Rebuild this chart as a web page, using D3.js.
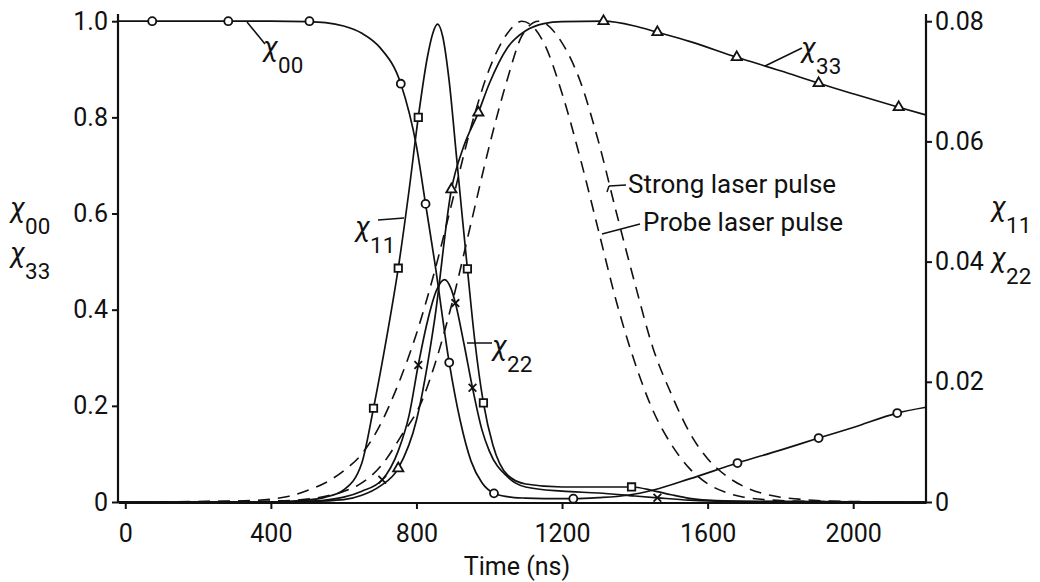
<!DOCTYPE html>
<html><head><meta charset="utf-8">
<script src="https://cdn.jsdelivr.net/npm/d3@7"></script>
<style>
body{margin:0;background:#fff;}
svg{display:block;}
text{font-family:"Liberation Sans Narrow","Roboto",sans-serif;fill:#111;}
</style></head><body>
<svg id="c" width="1040" height="582"></svg>
<script>
// ---- tick values / labels ----
const xTicks = [0, 400, 800, 1200, 1600, 2000];
const yLeftTicks = [0, 0.2, 0.4, 0.6, 0.8, 1.0];
const yLeftLabels = ["0", "0.2", "0.4", "0.6", "0.8", "1.0"];
const yRightTicks = [0, 0.02, 0.04, 0.06, 0.08];
const yRightLabels = ["0", "0.02", "0.04", "0.06", "0.08"];

// ---- chi00 (left axis) ----
const t00 = [-20, 100, 200, 300, 400, 500, 550, 600, 650, 700, 757, 800, 825, 850, 890, 920, 950, 980, 1013, 1050, 1100, 1150, 1231, 1300, 1380, 1451, 1550, 1682, 1800, 1905, 2000, 2121, 2200];
const v00 = [1.0, 1.0, 1.0, 1.0, 1.0, 0.999, 0.997, 0.99, 0.975, 0.945, 0.87, 0.74, 0.62, 0.50, 0.29, 0.17, 0.085, 0.04, 0.018, 0.011, 0.008, 0.007, 0.007, 0.009, 0.014, 0.025, 0.048, 0.081, 0.108, 0.133, 0.155, 0.185, 0.197];
const m00t = [74, 283, 506, 757, 825, 890, 1013, 1231, 1682, 1905, 2121];
const m00v = [1.0, 1.0, 1.0, 0.87, 0.62, 0.29, 0.018, 0.007, 0.081, 0.133, 0.185];

// ---- chi33 (left axis) ----
const t33 = [-20, 400, 500, 600, 650, 700, 750, 800, 850, 896, 930, 970, 1000, 1050, 1100, 1150, 1200, 1314, 1400, 1462, 1550, 1680, 1800, 1905, 2000, 2125, 2200];
const v33 = [0, 0, 0.001, 0.005, 0.014, 0.033, 0.07, 0.17, 0.38, 0.65, 0.74, 0.81, 0.87, 0.945, 0.98, 0.995, 0.999, 1.0, 0.99, 0.977, 0.958, 0.925, 0.897, 0.871, 0.849, 0.821, 0.805];
const m33t = [750, 896, 970, 1314, 1462, 1680, 1905, 2125];
const m33v = [0.07, 0.65, 0.81, 1.0, 0.977, 0.925, 0.871, 0.821];

// ---- chi11 (right axis) ----
const t11 = [-20, 400, 500, 550, 600, 650, 682, 720, 750, 780, 805, 830, 845, 858, 872, 890, 910, 925, 940, 960, 984, 1010, 1050, 1100, 1200, 1300, 1391, 1450, 1500, 1550, 1600, 1700, 2200];
const v11 = [0, 0, 0.0003, 0.0008, 0.002, 0.0065, 0.0156, 0.028, 0.0389, 0.052, 0.064, 0.074, 0.078, 0.0795, 0.0775, 0.070, 0.0575, 0.048, 0.0388, 0.027, 0.0165, 0.0095, 0.0045, 0.003, 0.0025, 0.0025, 0.0025, 0.0019, 0.0012, 0.0006, 0.0003, 0.0001, 0];
const m11t = [682, 750, 805, 940, 984, 1391];
const m11v = [0.0156, 0.0389, 0.064, 0.0388, 0.0165, 0.0025];

// ---- chi22 (right axis) ----
const t22 = [-20, 400, 500, 550, 600, 650, 706, 750, 780, 805, 830, 855, 877, 895, 907, 930, 954, 980, 1000, 1050, 1100, 1200, 1300, 1400, 1462, 1550, 1650, 2200];
const v22 = [0, 0, 0.0001, 0.0003, 0.0008, 0.0018, 0.0037, 0.0085, 0.0145, 0.0228, 0.030, 0.0352, 0.037, 0.0355, 0.0331, 0.0265, 0.019, 0.012, 0.0085, 0.0042, 0.0025, 0.0018, 0.0015, 0.001, 0.0007, 0.0003, 0.0001, 0];
const m22t = [706, 805, 907, 954, 1462];
const m22v = [0.0037, 0.0228, 0.0331, 0.019, 0.0007];

// ---- laser pulses (left axis, normalised) ----
const tProbe = [-20, 300, 400, 450, 500, 550, 600, 650, 700, 750, 800, 850, 900, 950, 1000, 1050, 1090, 1150, 1200, 1250, 1300, 1350, 1400, 1450, 1500, 1550, 1600, 1650, 1700, 1800, 1900, 2000, 2200];
const vProbe = [0, 0.002, 0.006, 0.012, 0.024, 0.04, 0.065, 0.10, 0.16, 0.245, 0.35, 0.48, 0.63, 0.78, 0.90, 0.975, 1.0, 0.955, 0.85, 0.715, 0.565, 0.415, 0.29, 0.19, 0.12, 0.07, 0.038, 0.02, 0.01, 0.003, 0.001, 0, 0];
const tStrong = [-20, 400, 500, 550, 600, 640, 709, 756, 816, 850, 900, 950, 1000, 1050, 1090, 1135, 1200, 1250, 1300, 1350, 1400, 1450, 1500, 1550, 1600, 1650, 1700, 1750, 1800, 1850, 1900, 2000, 2100, 2200];
const vStrong = [0, 0.002, 0.006, 0.012, 0.022, 0.035, 0.081, 0.135, 0.212, 0.285, 0.42, 0.58, 0.74, 0.88, 0.97, 1.0, 0.955, 0.875, 0.75, 0.6, 0.455, 0.32, 0.225, 0.145, 0.09, 0.055, 0.032, 0.018, 0.01, 0.006, 0.003, 0.001, 0, 0];

// ---- scales ----
const svg = d3.select("#c");
const x = d3.scaleLinear().domain([-20, 2200]).range([118, 926]);
const yL = d3.scaleLinear().domain([0, 1.015]).range([502, 14]);
const yR = d3.scaleLinear().domain([0, 0.0812]).range([502, 14]);

const zip = (ts, vs) => ts.map((t, i) => [t, vs[i]]);
const lineL = d3.line().x(d => x(d[0])).y(d => yL(d[1])).curve(d3.curveMonotoneX);
const lineR = d3.line().x(d => x(d[0])).y(d => yR(d[1])).curve(d3.curveMonotoneX);

const ink = "#111";
const g = svg.append("g");

// dashed pulses
[[tProbe, vProbe], [tStrong, vStrong]].forEach(([ts, vs]) => {
  g.append("path").attr("d", lineL(zip(ts, vs))).attr("fill", "none")
    .attr("stroke", ink).attr("stroke-width", 1.6).attr("stroke-dasharray", "12,8");
});
// solid curves
g.append("path").attr("d", lineL(zip(t00, v00))).attr("fill", "none").attr("stroke", ink).attr("stroke-width", 1.7);
g.append("path").attr("d", lineL(zip(t33, v33))).attr("fill", "none").attr("stroke", ink).attr("stroke-width", 1.7);
g.append("path").attr("d", lineR(zip(t11, v11))).attr("fill", "none").attr("stroke", ink).attr("stroke-width", 1.7);
g.append("path").attr("d", lineR(zip(t22, v22))).attr("fill", "none").attr("stroke", ink).attr("stroke-width", 1.7);

// markers
function markers(ts, vs, ys, type, size) {
  const sym = d3.symbol().type(type).size(size);
  g.selectAll(null).data(zip(ts, vs)).enter().append("path")
    .attr("d", sym)
    .attr("transform", d => `translate(${x(d[0])},${ys(d[1])})`)
    .attr("fill", "#fff").attr("stroke", ink).attr("stroke-width", 1.8);
}
markers(m00t, m00v, yL, d3.symbolCircle, 50);
markers(m33t, m33v, yL, d3.symbolTriangle, 45);
markers(m11t, m11v, yR, d3.symbolSquare, 55);
markers(m22t, m22v, yR, d3.symbolTimes, 40);

// ---- axes ----
const fs = "25px";
const ax = svg.append("g").attr("transform", "translate(0,503)")
  .call(d3.axisBottom(x).tickValues(xTicks).tickSize(6).tickPadding(15).tickFormat(d3.format("d")));
const ayl = svg.append("g").attr("transform", "translate(118,0)")
  .call(d3.axisLeft(yL).tickValues(yLeftTicks).tickSize(6).tickPadding(4).tickFormat((d, i) => yLeftLabels[i]));
const ayr = svg.append("g").attr("transform", "translate(926,0)")
  .call(d3.axisRight(yR).tickValues(yRightTicks).tickSize(6).tickPadding(3).tickFormat((d, i) => yRightLabels[i]));
[ax, ayl, ayr].forEach(a => {
  a.selectAll("path.domain").attr("stroke", ink).attr("stroke-width", 2.2);
  a.selectAll(".tick line").attr("stroke", ink).attr("stroke-width", 2);
  a.selectAll("text").attr("font-size", fs).attr("fill", ink)
    .style("font-family", '"Liberation Sans Narrow","Roboto",sans-serif');
});
ax.select("path.domain").attr("d", "M0.5,0H808.5").attr("transform", "translate(118,0)");
ayl.select("path.domain").attr("d", "M0,14V503");
ayr.select("path.domain").attr("d", "M0,14V503");

// x-axis title
svg.append("text").attr("x", 517).attr("y", 575).attr("text-anchor", "middle")
  .attr("font-size", "25px").text("Time (ns)");

// chi labels helper
function chi(xp, yp, sub, size) {
  const t = svg.append("text").attr("x", xp).attr("y", yp).attr("font-size", size);
  t.append("tspan").attr("font-style", "italic").text("χ");
  t.append("tspan").attr("dy", size * 0.6).attr("font-size", size * 0.8).text(sub);
}
// axis titles
chi(10, 217, "00", 28);
chi(10, 262, "33", 28);
chi(991, 216, "11", 28);
chi(991, 267, "22", 28);

// curve labels with leader lines
function leader(x1, y1, x2, y2) {
  svg.append("line").attr("x1", x1).attr("y1", y1).attr("x2", x2).attr("y2", y2)
    .attr("stroke", ink).attr("stroke-width", 1.5);
}
leader(247, 22, 265, 44);
chi(263, 56, "00", 28);
leader(765, 66, 802, 48);
chi(801, 57, "33", 28);
leader(378, 220, 404, 218);
chi(355, 236, "11", 28);
leader(467, 343, 492, 343);
chi(492, 355, "22", 28);

// pulse labels
leader(609, 186, 626, 185);
leader(609, 186, 607, 192);
svg.append("text").attr("x", 628).attr("y", 193).attr("font-size", "26px").text("Strong laser pulse");
leader(602, 234, 640, 224);
svg.append("text").attr("x", 643).attr("y", 231).attr("font-size", "26px").text("Probe laser pulse");
</script>
</body></html>
